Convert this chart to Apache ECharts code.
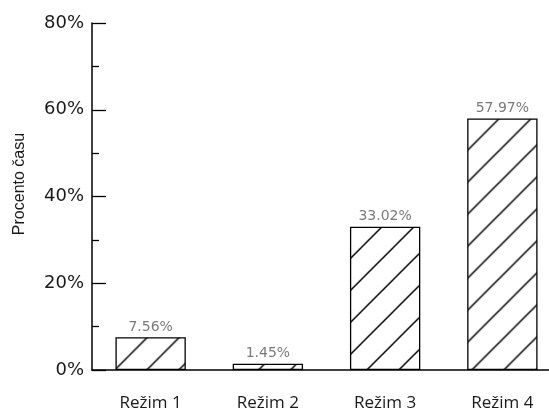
<!DOCTYPE html>
<html><head><meta charset="utf-8">
<script src="https://cdn.jsdelivr.net/npm/echarts@6/dist/echarts.min.js"></script>
<style>html,body{margin:0;padding:0;background:#fff}#c{width:549px;height:412px}</style>
</head><body><div id="c"></div>
<script>
const categories = ['Režim 1', 'Režim 2', 'Režim 3', 'Režim 4'];
const values = [7.56, 1.45, 33.02, 57.97];
const yTicks = [0, 20, 40, 60, 80];
const yTitle = 'Procento času';

function hatchTile(p) {
  const c = document.createElement('canvas');
  c.width = p; c.height = p;
  const g = c.getContext('2d');
  g.fillStyle = '#fff'; g.fillRect(0, 0, p, p);
  g.strokeStyle = '#000'; g.lineWidth = 1.5;
  for (let k = 0; k <= 2; k++) {
    g.beginPath();
    g.moveTo(k * p - p - 2, p + 2);
    g.lineTo(k * p + 2, -2);
    g.stroke();
  }
  return c;
}
const tile = hatchTile(32);

const chart = echarts.init(document.getElementById('c'), null, {renderer: 'canvas'});
const option = {
  animation: false,
  backgroundColor: '#fff',
  grid: {left: 92, top: 23, width: 469, height: 347, containLabel: false, outerBoundsMode: 'none'},
  xAxis: {
    type: 'category',
    data: categories,
    axisLine: {lineStyle: {color: '#000', width: 1.5}},
    axisTick: {alignWithLabel: true, length: 13, inside: false, lineStyle: {color: '#000', width: 1.3}},
    axisLabel: {margin: 25, color: '#1a1a1a', fontFamily: 'Open Sans', fontSize: 17}
  },
  yAxis: {
    type: 'value',
    min: yTicks[0], max: yTicks[yTicks.length - 1], interval: yTicks[1] - yTicks[0],
    splitLine: {show: false},
    axisLine: {show: true, lineStyle: {color: '#000', width: 1.5}},
    axisTick: {show: true, inside: true, length: 14, lineStyle: {color: '#000', width: 1.3}},
    minorTick: {show: true, splitNumber: 2, length: 7, lineStyle: {color: '#000', width: 1.3}},
    axisLabel: {margin: 8, color: '#1a1a1a', fontFamily: 'DejaVu Sans', fontSize: 18, formatter: v => v + '%'}
  },
  graphic: [{
    type: 'text', x: 20, y: 184, rotation: Math.PI / 2,
    style: {text: yTitle, font: '16px "Liberation Sans"', fill: '#1a1a1a', align: 'center', verticalAlign: 'middle'}
  }],
  series: [{
    type: 'bar',
    data: values,
    barWidth: '60%',
    itemStyle: {color: {image: tile, repeat: 'repeat'}, borderColor: '#000', borderWidth: 1.3},
    label: {show: true, position: 'top', distance: 3, color: '#7a7a7a', fontFamily: 'DejaVu Sans', fontSize: 14,
      formatter: p => p.value.toFixed(2) + '%'}
  }]
};
chart.setOption(option);

// anchor the hatch pattern at each bar's top-left corner
const sdata = chart.getModel().getSeriesByIndex(0).getData();
const items = values.map((v, i) => {
  const l = sdata.getItemLayout(i);
  const x = Math.min(l.x, l.x + l.width);
  const y = Math.min(l.y, l.y + l.height);
  return {value: v, itemStyle: {color: {image: tile, repeat: 'repeat', x: x, y: y}}};
});
chart.setOption({series: [{data: items}]});
</script>
</body></html>
